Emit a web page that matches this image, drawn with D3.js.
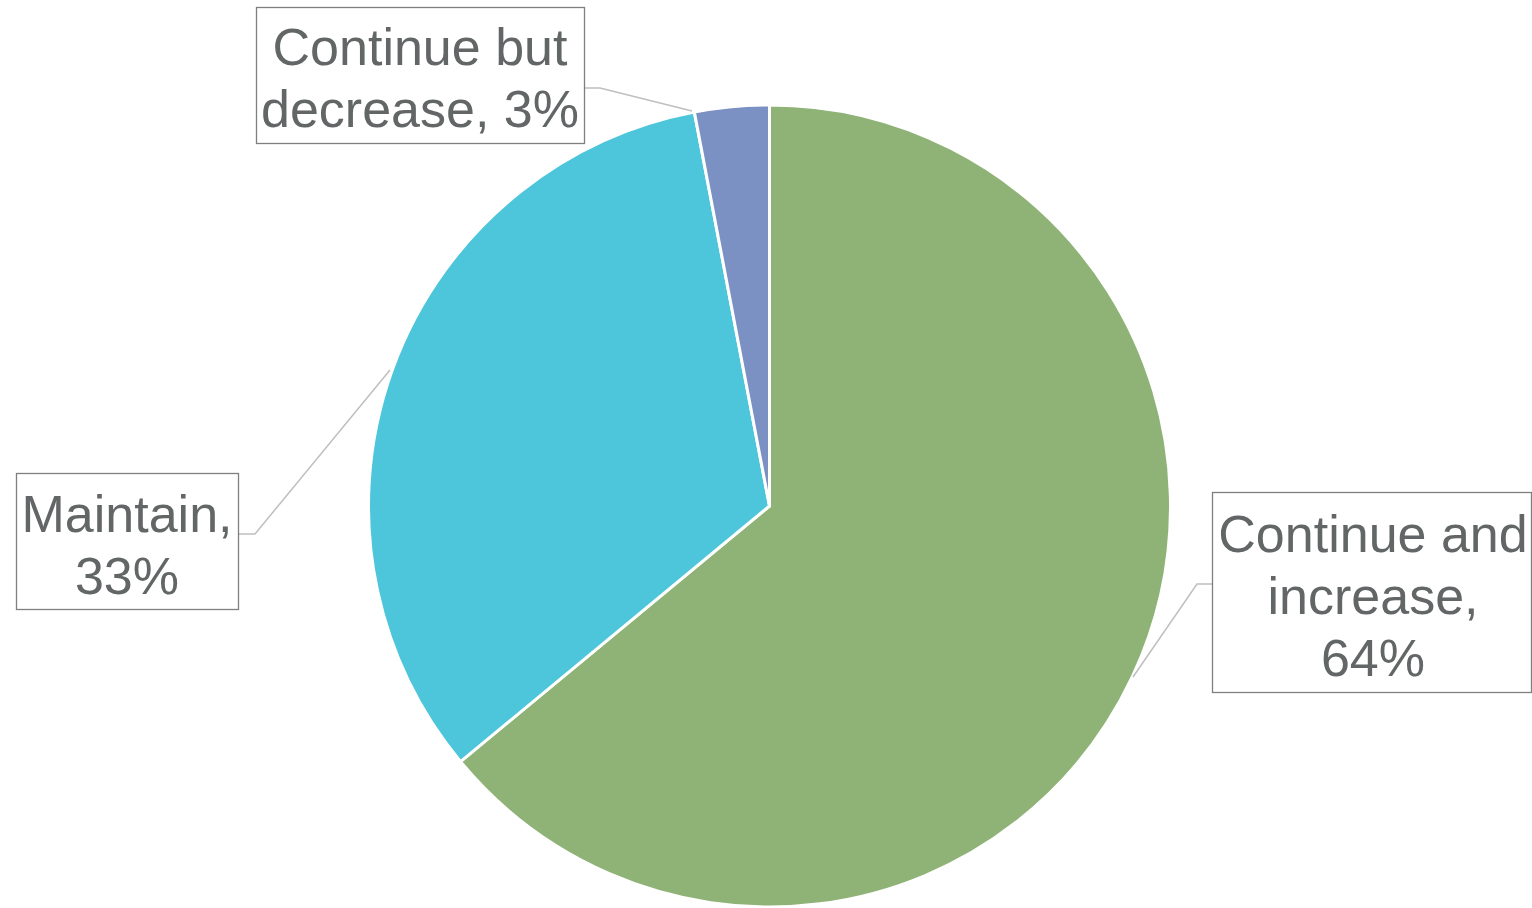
<!DOCTYPE html>
<html><head><meta charset="utf-8">
<script src="https://cdn.jsdelivr.net/npm/d3@7"></script>
<style>html,body{margin:0;padding:0;background:#fff;}svg{display:block;}</style>
</head><body>
<svg id="chart" width="1532" height="908"></svg>
<script>
const categories = ["Continue and increase", "Maintain", "Continue but decrease"];
const values = [64, 33, 3];
const colors = ["#8FB376", "#4DC5DA", "#7B91C3"];
const labelLines = [["Continue and", "increase,", "64%"], ["Maintain,", "33%"], ["Continue but", "decrease, 3%"]];

// label layout: box [x0,y0,x1,y1], first baseline, leader polyline
const labelLayout = [
  {box:[1212,492,1531,692], cx:1373, base:552, leader:[[1212,584],[1197,584],[1133,677]]},
  {box:[16,473,238,609], cx:127, base:532, leader:[[238,534],[255,534],[390,370]]},
  {box:[256,7,584,143], cx:420, base:65, leader:[[584,88],[600,88],[692,111]]}
];

const svg = d3.select("#chart");
const cx = 769.5, cy = 506, r = 401;
const pie = d3.pie().sort(null).value(d => d).startAngle(0).endAngle(2*Math.PI);
const arc = d3.arc().innerRadius(0).outerRadius(r);
const g = svg.append("g").attr("transform", `translate(${cx},${cy})`);
g.selectAll("path").data(pie(values)).join("path")
  .attr("d", arc)
  .attr("fill", (d,i) => colors[i])
  .attr("stroke", "#fff").attr("stroke-width", 3).attr("stroke-linejoin","round");

const line = d3.line();
labelLayout.forEach((L, i) => {
  svg.append("path").attr("d", line(L.leader)).attr("fill","none")
    .attr("stroke","#BFBFBF").attr("stroke-width",1.5);
  svg.append("rect").attr("x", L.box[0]+0.5).attr("y", L.box[1]+0.5)
    .attr("width", L.box[2]-L.box[0]).attr("height", L.box[3]-L.box[1])
    .attr("fill","#fff").attr("stroke","#7F7F7F").attr("stroke-width",1.3);
  const t = svg.append("text").attr("text-anchor","middle")
    .attr("font-family","'Liberation Sans', Arial, Helvetica, sans-serif")
    .attr("font-size", 52).attr("fill","#636666");
  labelLines[i].forEach((s, k) => {
    t.append("tspan").attr("x", L.cx).attr("y", L.base + k*62).text(s);
  });
});
</script>
</body></html>
